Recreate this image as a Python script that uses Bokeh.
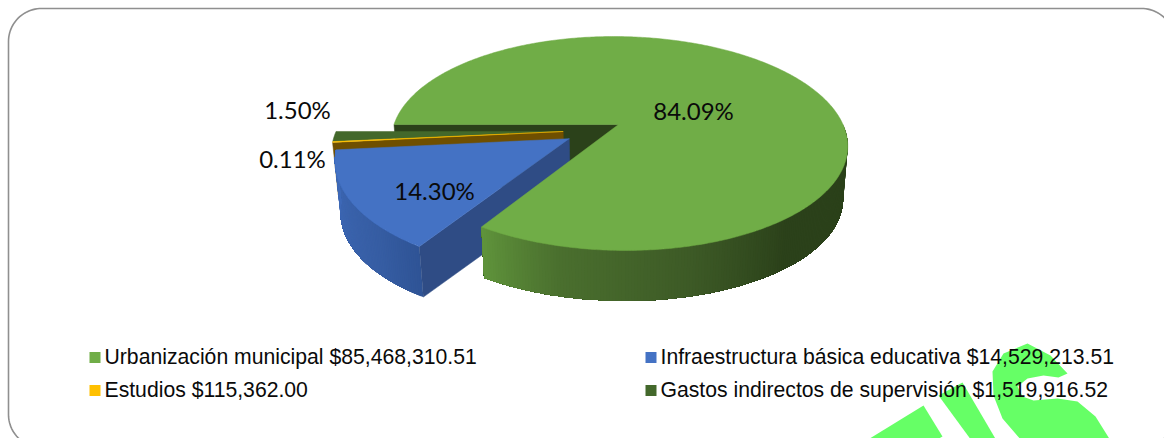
import math
from bokeh.plotting import figure
from bokeh.models import Range1d
from bokeh.core.properties import value
from bokeh.embed import file_html
from bokeh.resources import INLINE

# ---- data -------------------------------------------------------------
categories = ["Urbanización municipal", "Infraestructura básica educativa",
              "Estudios", "Gastos indirectos de supervisión"]
amounts = [85468310.51, 14529213.51, 115362.00, 1519916.52]
amount_labels = ["$85,468,310.51", "$14,529,213.51", "$115,362.00", "$1,519,916.52"]
percent_labels = ["84.09%", "14.30%", "0.11%", "1.50%"]
top_colors = ["#70ad47", "#4472c4", "#ffc000", "#43682b"]
inner_wall_colors = ["#2b411a", "#2f4c85", "#6f4f00", "#2b411a"]

W, H = 1164, 438
p = figure(width=W, height=H, x_range=Range1d(0, W), y_range=Range1d(H, 0),
           output_backend="svg", toolbar_location=None, min_border=0,
           outline_line_color=None, background_fill_color="white",
           border_fill_color="white")
p.axis.visible = False
p.grid.visible = False

# ---- frame -------------------------------------------------------------
def rrect(x0, y0, x1, y1, r):
    xs, ys = [], []
    for cx, cy, a0 in [(x1 - r, y0 + r, -90), (x1 - r, y1 - r, 0),
                       (x0 + r, y1 - r, 90), (x0 + r, y0 + r, 180)]:
        for i in range(25):
            a = math.radians(a0 + 90 * i / 24)
            xs.append(cx + r * math.cos(a))
            ys.append(cy + r * math.sin(a))
    return xs, ys

# shadow in the corner outside the frame
p.patch([1130, 1170, 1170, 1130], [420, 420, 440, 440], color="#a6a6a6", line_color=None)
fx, fy = rrect(8, 8, 1174, 447, 33)
p.patch(fx, fy, fill_color="white", line_color="#8f8f8f", line_width=1.6)

# ---- watermark ---------------------------------------------------------
WM = "#66ff66"
wm_a = ([866, 923, 942, 935], [440, 405, 436, 440])
wm_b = ([938, 962, 996, 971], [395, 382, 440, 440])
wm_s_x = [1067, 1050, 1027, 1003, 992, 993, 1002, 1021,
          1110, 1095, 1077, 1057, 1033, 1022, 1017, 1027, 1043, 1058]
wm_s_y = [373, 355, 343, 353, 371, 395, 418, 440,
          440, 416, 401, 398, 400, 396, 386, 378, 375, 377]
p.patch(wm_a[0], wm_a[1], color=WM, line_color=None)
p.patch(wm_b[0], wm_b[1], color=WM, line_color=None)
p.patch(wm_s_x, wm_s_y, color=WM, line_color=None)

# ---- pie projection ----------------------------------------------------
CX, CY, B, A, K, SHEAR = 618.0, 124.0, 224.5, 103.6, 0.1776, 0.055
DEPTH, SHRINK = 53.0, 0.98

def project(th_deg, r=1.0, off=(0.0, 0.0)):
    th = math.radians(th_deg)
    px = r * math.sin(th) + off[0]
    py = r * math.cos(th) + off[1]
    w = 1 + K * py
    sy = -A * py / w
    return CX + B * px / w + SHEAR * sy, CY + sy

def lower(pt):
    return CX + (pt[0] - CX) * SHRINK, CY + (pt[1] - CY) * SHRINK + DEPTH

def arc(a0, a1, off, n=None):
    n = n or max(2, int(abs(a1 - a0) * 1.5))
    return [project(a0 + (a1 - a0) * i / n, 1.0, off) for i in range(n + 1)]

def mix(c0, c1, t):
    return "#%02x%02x%02x" % tuple(round(c0[i] + (c1[i] - c0[i]) * t) for i in range(3))

def ramp(stops, t):
    for (t0, c0), (t1, c1) in zip(stops, stops[1:]):
        if t <= t1:
            return mix(c0, c1, (t - t0) / (t1 - t0))
    return mix(stops[-1][1], stops[-1][1], 0)

total = sum(amounts)
sweeps = [360 * v / total for v in amounts]
START = 270.0
angles, a = [], START
for s in sweeps:
    angles.append((a, a + s))
    a += s

def offset(d, th_deg):
    t = math.radians(th_deg)
    return d * math.sin(t), d * math.cos(t)

offsets = [(0.0, 0.0), offset(0.255, 238.5), offset(0.254, 254.8), offset(0.254, 254.8)]

def face(i):
    a0, a1 = angles[i]
    pts = [project(0, 0, offsets[i])] + arc(a0, a1, offsets[i])
    return [q[0] for q in pts], [q[1] for q in pts]

def edge_wall(th, off, color):
    ap, rim = project(0, 0, off), project(th, 1.0, off)
    poly = [ap, rim, lower(rim), lower(ap)]
    p.patch([q[0] for q in poly], [q[1] for q in poly], color=color, line_color=color, line_width=0.5)

def outer_wall(a0, a1, off, stops):
    # painted as nested strips from the far end, each one reaching to the end
    # of the arc, so no seam can show between neighbouring colours
    rim = arc(a0, a1, off)
    last = len(rim) - 1
    xs, ys, cs = [], [], []
    for j in range(last):
        span = rim[j:]
        q = span + [lower(v) for v in reversed(span)]
        xs.append([v[0] for v in q])
        ys.append([v[1] for v in q])
        cs.append(ramp(stops, j / (last - 1)))
    p.patches(xs, ys, fill_color=cs, line_color=None)

# main slice back wall
edge_wall(angles[0][0] % 360, offsets[0], inner_wall_colors[0])

# thin exploded slices: dark green and orange
x, y = face(3)
p.patch(x, y, color=top_colors[3], line_color=top_colors[3], line_width=0.5)
edge_wall(angles[2][0] % 360, offsets[2], inner_wall_colors[2])
x, y = face(2)
p.patch(x, y, color=top_colors[2], line_color=top_colors[2], line_width=0.5)

# blue slice
BLUE_STOPS = [(0.0, (0x2f, 0x54, 0x96)), (0.25, (0x36, 0x5d, 0xa3)), (1.0, (0x3f, 0x6a, 0xb8))]
outer_wall(angles[1][0] % 360, angles[1][1] % 360, offsets[1], BLUE_STOPS)
edge_wall(angles[1][0] % 360, offsets[1], inner_wall_colors[1])
x, y = face(1)
p.patch(x, y, color=top_colors[1], line_color=top_colors[1], line_width=0.5)

# main slice: outer wall (only the front part is visible) and top
GREEN_STOPS = [(0.0, (0x2b, 0x41, 0x1a)), (0.42, (0x2b, 0x41, 0x1a)), (0.62, (0x3d, 0x5a, 0x26)),
               (0.85, (0x4a, 0x6f, 0x2e)), (1.0, (0x5f, 0x93, 0x3b))]
outer_wall(90, angles[0][1] - 360, offsets[0], GREEN_STOPS)
x, y = face(0)
p.patch(x, y, color=top_colors[0], line_color=top_colors[0], line_width=0.5)

# ---- data labels -------------------------------------------------------
LABEL_FONT = value("Lato")
label_pos = [(693, 110), (434, 190), (292, 158), (297, 109)]
for (lx, ly), t in zip(label_pos, percent_labels):
    p.text([lx], [ly], text=[t], text_font=LABEL_FONT, text_font_size="24px",
           text_color="#0a0a0a", text_align="center", text_baseline="middle")

# ---- legend ------------------------------------------------------------
legend_pos = [(89, 357), (645, 357), (89, 390), (645, 390)]
for (lx, ly), c, n, v in zip(legend_pos, top_colors, categories, amount_labels):
    p.rect([lx + 5.5], [ly], width=11, height=11, color=c, line_color=None)
    p.text([lx + 15], [ly - 1], text=[n + " " + v], text_font=value("Liberation Sans"),
           text_font_size="21.2px", text_color="#0a0a0a", text_align="left",
           text_baseline="middle")

open("out.html", "w").write(file_html(p, INLINE))
